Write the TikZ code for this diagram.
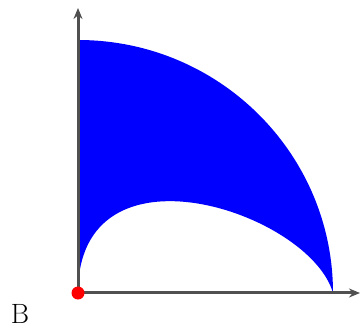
\documentclass[tikz,border=0pt]{standalone}
\usepackage{tikz}
\usetikzlibrary{arrows.meta, positioning}
\definecolor{AxisInk}{HTML}{505050}
\definecolor{LuneFill}{HTML}{0000FF}
\definecolor{PoleRed}{HTML}{FF0000}

\begin{document}
\begin{tikzpicture}[
    x=1bp, y=1bp,
    axis/.style={
      draw=AxisInk,
      line width=3bp,
      -{Stealth[length=11bp, width=9bp]},
    },
    lune/.style={fill=LuneFill},
    pole/.style={
      circle,
      fill=PoleRed,
      inner sep=0pt,
      minimum size=13bp,
    },
  ]
    \useasboundingbox (0,0) rectangle (360,330);
    \coordinate (O) at (78,37);
    \coordinate (xend) at (360,37);
    \coordinate (yend) at (78,322);
    % blue region between the two arcs
    \fill[lune] (O) .. controls (78,195) and (310,118) .. (333,37)
      arc[start angle=0, end angle=90, x radius=255, y radius=253] -- cycle;
    \draw[axis] (O) -- (xend);
    \draw[axis] (O) -- (yend);
    \node[pole] (pole) at (O) {};
    \node[font=\fontsize{28}{30}\selectfont, inner sep=0pt] (lbl) at (20,16) {B};
  \end{tikzpicture}
\end{document}
